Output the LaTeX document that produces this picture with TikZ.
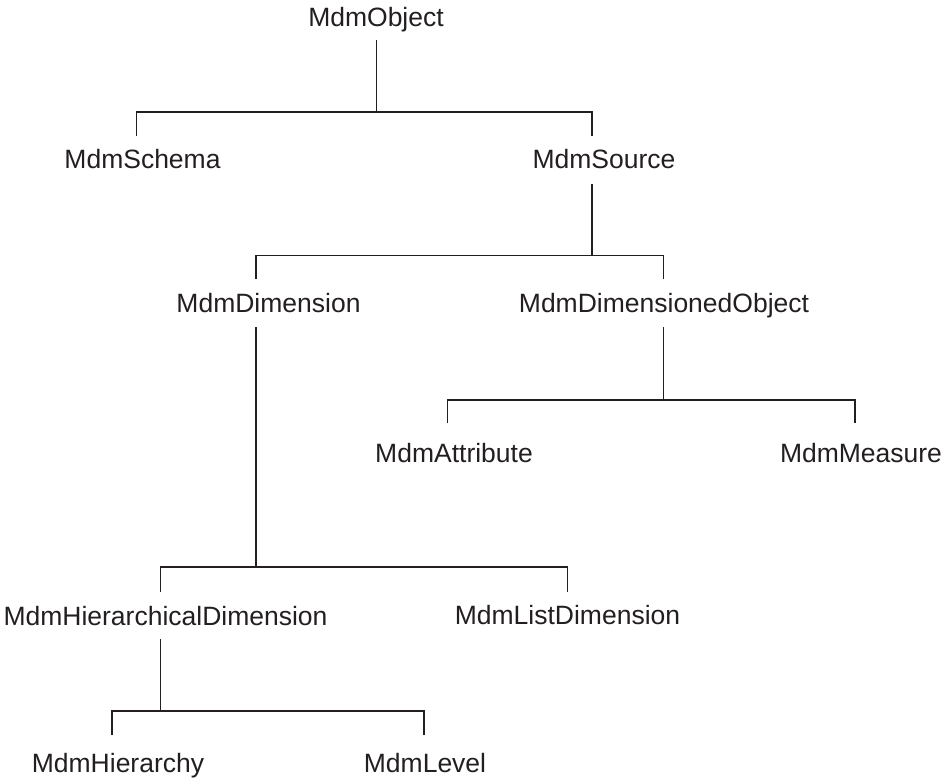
\documentclass[tikz,border=0pt]{standalone}
\usepackage{fontspec}
\setmainfont{Liberation Sans}
\definecolor{ink}{HTML}{231F20}
\begin{document}
\begin{tikzpicture}[x=1pt,y=-1pt,
  lbl/.style={font=\fontsize{26.5}{30}\selectfont, inner sep=0pt, anchor=base, text=ink},
  link/.style={draw=ink, line width=1.2pt, line join=miter}]
\useasboundingbox (0,0) rectangle (942,780);

% class names (placed on their baselines)
\node[lbl] (obj)    at (376,26)    {MdmObject};
\node[lbl] (schema) at (142.5,168) {MdmSchema};
\node[lbl] (source) at (604,168)   {MdmSource};
\node[lbl] (dim)    at (268.5,312) {MdmDimension};
\node[lbl] (dimobj) at (664,312)   {MdmDimensionedObject};
\node[lbl] (attr)   at (454,462)   {MdmAttribute};
\node[lbl] (meas)   at (861,462)   {MdmMeasure};
\node[lbl] (hdim)   at (165.5,625) {MdmHierarchicalDimension};
\node[lbl] (ldim)   at (567.5,624) {MdmListDimension};
\node[lbl] (hier)   at (118,772)   {MdmHierarchy};
\node[lbl] (lvl)    at (425,772)   {MdmLevel};

% stem and bar points of each parent, and entry points of each child
\coordinate (obj-out)    at (376.7,40);
\coordinate (obj-bar)    at (376.7,112);
\coordinate (schema-in)  at (136.7,136);
\coordinate (source-in)  at (592,136);

\coordinate (source-out) at (592,184);
\coordinate (source-bar) at (592,255.7);
\coordinate (dim-in)     at (256,279);
\coordinate (dimobj-in)  at (663.7,279);

\coordinate (dimobj-out) at (663.7,327);
\coordinate (dimobj-bar) at (663.7,400);
\coordinate (attr-in)    at (447.7,423);
\coordinate (meas-in)    at (855,423);

\coordinate (dim-out)    at (256,327);
\coordinate (dim-bar)    at (256,567);
\coordinate (hdim-in)    at (160.7,592);
\coordinate (ldim-in)    at (567.7,592);

\coordinate (hdim-out)   at (160.7,639);
\coordinate (hdim-bar)   at (160.7,711);
\coordinate (hier-in)    at (112,735);
\coordinate (lvl-in)     at (424,735);

% inheritance connectors
\draw[link] (obj-out) -- (obj-bar);
\draw[link] (obj-bar) -| (schema-in);
\draw[link] (obj-bar) -| (source-in);

\draw[link] (source-out) -- (source-bar);
\draw[link] (source-bar) -| (dim-in);
\draw[link] (source-bar) -| (dimobj-in);

\draw[link] (dimobj-out) -- (dimobj-bar);
\draw[link] (dimobj-bar) -| (attr-in);
\draw[link] (dimobj-bar) -| (meas-in);

\draw[link] (dim-out) -- (dim-bar);
\draw[link] (dim-bar) -| (hdim-in);
\draw[link] (dim-bar) -| (ldim-in);

\draw[link] (hdim-out) -- (hdim-bar);
\draw[link] (hdim-bar) -| (hier-in);
\draw[link] (hdim-bar) -| (lvl-in);
\end{tikzpicture}
\end{document}
